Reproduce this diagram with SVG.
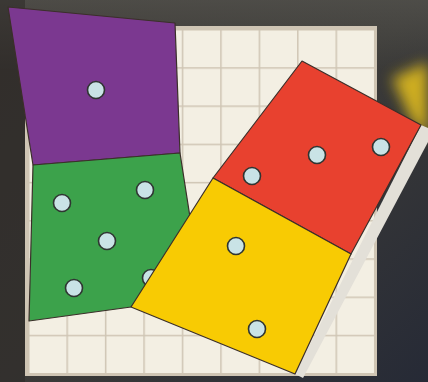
<svg xmlns="http://www.w3.org/2000/svg" width="428" height="382" viewBox="0 0 428 382">
<defs>
<linearGradient id="bg" x1="0" y1="0" x2="1" y2="1">
<stop offset="0" stop-color="#3a3632"/>
<stop offset="0.5" stop-color="#3c3b38"/>
<stop offset="1" stop-color="#262a36"/>
</linearGradient>
<linearGradient id="topfade" x1="0" y1="0" x2="0" y2="1">
<stop offset="0" stop-color="#55544f" stop-opacity="0.7"/>
<stop offset="1" stop-color="#55544f" stop-opacity="0"/>
</linearGradient>
<filter id="blur" x="-50%" y="-50%" width="200%" height="200%">
<feGaussianBlur stdDeviation="7"/>
</filter>
<pattern id="grid" x="28" y="29" width="38.44" height="38.22" patternUnits="userSpaceOnUse">
<rect width="38.44" height="38.22" fill="#f3efe3"/>
<path d="M0 0H38.44M0 0V38.22" stroke="#cfc5b4" stroke-width="3" fill="none"/>
</pattern>
<style>
.pc{stroke:#3b2f2a;stroke-width:1.2;stroke-linejoin:round}
.dot{fill:#c9e3e6;stroke:#2f3532;stroke-width:1.6}
</style>
</defs>
<rect width="428" height="382" fill="url(#bg)"/>
<rect x="0" y="0" width="428" height="70" fill="url(#topfade)"/>
<rect x="0" y="0" width="25" height="382" fill="#2a2623" opacity="0.5"/>
<polygon points="392,78 428,62 428,140 410,118" fill="#e8c21c" opacity="0.85" filter="url(#blur)"/>
<g id="grid-board">
<rect x="26.5" y="27.5" width="349" height="347" fill="url(#grid)" stroke="#cfc5b4" stroke-width="3"/>
</g>
<g id="strip">
<polygon points="421,125 428,128 428,142 303,378 295,374" fill="#e3e0d8"/>
</g>
<g id="purple">
<polygon class="pc" points="8,7 175,23 180,153 33,165" fill="#7b3890"/>
<circle class="dot" cx="96" cy="90" r="8.5"/>
</g>
<g id="green">
<polygon class="pc" points="33,165 180,153 192,230 131,307 29,321" fill="#3ca24b"/>
<circle class="dot" cx="145" cy="190" r="8.5"/>
<circle class="dot" cx="62" cy="203" r="8.5"/>
<circle class="dot" cx="107" cy="241" r="8.5"/>
<circle class="dot" cx="74" cy="288" r="8.5"/>
<circle class="dot" cx="151" cy="278" r="8.5"/>
</g>
<g id="red">
<polygon class="pc" points="302,61 421,125 351,254 213,178" fill="#e8412f"/>
<circle class="dot" cx="252" cy="176" r="8.5"/>
<circle class="dot" cx="317" cy="155" r="8.5"/>
<circle class="dot" cx="381" cy="147" r="8.5"/>
</g>
<g id="yellow">
<polygon class="pc" points="213,178 351,254 295,374 131,307" fill="#f8cb03"/>
<circle class="dot" cx="236" cy="246" r="8.5"/>
<circle class="dot" cx="257" cy="329" r="8.5"/>
</g>
</svg>
